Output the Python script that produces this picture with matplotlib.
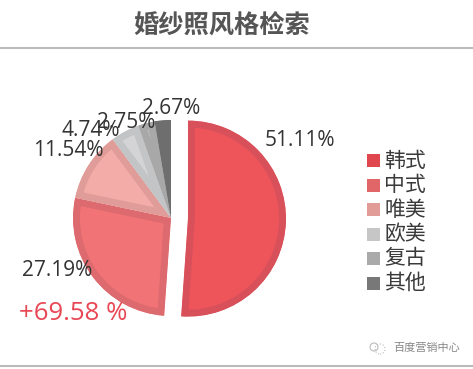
import matplotlib
matplotlib.use("Agg")
import matplotlib.pyplot as plt
from matplotlib.patches import Rectangle, Circle

plt.rcParams['font.family'] = ['Noto Sans CJK SC', 'DejaVu Sans']

# data
styles = ["韩式", "中式", "唯美", "欧美", "复古", "其他"]
shares = [51.11, 27.19, 11.54, 4.74, 2.75, 2.67]
pct_labels = ["51.11%", "27.19%", "11.54%", "4.74%", "2.75%", "2.67%"]
growth_label = "+69.58 %"
title = "婚纱照风格检索"
watermark = "百度营销中心"

# colours
fills = ["#EE555A", "#F27376", "#F4ACA8", "#D4D4D6", "#B8B8BA", "#6E6E6E"]
edges = ["#D8505A", "#DC6A6E", "#E09C98", "#C2C4C6", "#A8A8A8", "#6E6E6E"]
legend_colors = ["#E0464E", "#E06668", "#E29C98", "#C6C6C6", "#AAAAAA", "#787878"]

# label spots in pixels, left/top of picture
label_pos = [(300, 141), (57, 271), (68, 151), (91, 131), (126, 122), (171, 108)]

fig = plt.figure(figsize=(4.73, 3.69), dpi=100)
ax = fig.add_axes([0, 0, 1, 1])

wedges, _ = ax.pie(shares, explode=[17, 0, 0, 0, 0, 0], startangle=90, counterclock=False,
                   colors=fills, radius=98, center=(171, 369 - 218), frame=True)
for w, e in zip(wedges, edges):
    w.set_edgecolor(e)
    w.set_linewidth(10)
    w.set_joinstyle('miter')
    w.set_clip_on(True)  # pie turns clipping off
    w.set_clip_path(w)  # keeps the border inside the slice

ax.set_xlim(0, 473)
ax.set_ylim(0, 369)
ax.set_aspect('auto')
ax.axis('off')

for txt, (x, y) in zip(pct_labels, label_pos):
    ax.text(x, 369 - y, txt, fontsize=15, color="#333333", ha='center', va='center',
            family=['Open Sans', 'DejaVu Sans'])

ax.text(73, 369 - 313, growth_label, fontsize=18.5, color="#E84855", ha='center', va='center',
        family=['Open Sans', 'DejaVu Sans'], weight='medium')

ax.text(222, 369 - 26, title, fontsize=18.2, color="#555555", ha='center', va='center', weight='bold')
ax.plot([0, 473], [369 - 48, 369 - 48], color="#BBBBBB", lw=1.5)
ax.plot([0, 473], [369 - 366, 369 - 366], color="#BBBBBB", lw=1.5)

# legend
for i, (name, c) in enumerate(zip(styles, legend_colors)):
    y = 160.5 + i * 24.5
    ax.add_patch(Rectangle((367, 369 - y - 6.5), 13, 13, color=c, lw=0))
    ax.text(384, 369 - y, name, fontsize=15, color="#3A3A3A", ha='left', va='center')

# watermark
ax.add_patch(Circle((380, 369 - 349), 5, fill=False, ec="#BBBBBB", lw=0.8, ls=':'))
ax.add_patch(Circle((374, 369 - 347), 4, fill=False, ec="#BBBBBB", lw=0.8))
ax.text(393, 369 - 348, watermark, fontsize=8, color="#888888", ha='left', va='center')

fig.savefig("out.png", dpi=100)
